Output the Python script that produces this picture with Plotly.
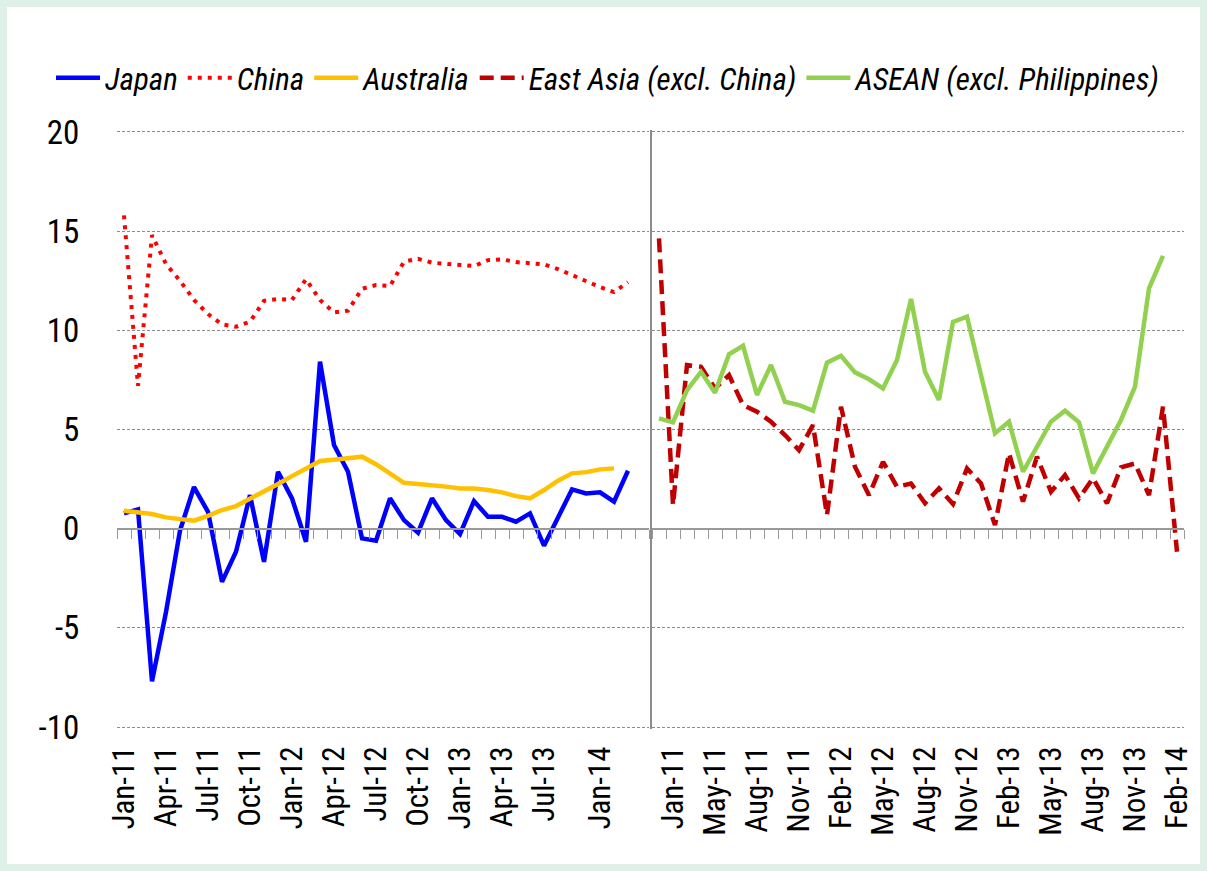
import plotly.graph_objects as go

# ---------------- data ----------------
left_tick_labels = ["Jan-11", "Apr-11", "Jul-11", "Oct-11", "Jan-12", "Apr-12", "Jul-12",
                    "Oct-12", "Jan-13", "Apr-13", "Jul-13", "Jan-14"]
right_tick_labels = ["Jan-11", "May-11", "Aug-11", "Nov-11", "Feb-12", "May-12", "Aug-12",
                     "Nov-12", "Feb-13", "May-13", "Aug-13", "Nov-13", "Feb-14"]
y_tick_values = [-10, -5, 0, 5, 10, 15, 20]
y_tick_labels = ["-10", "-5", "0", "5", "10", "15", "20"]

japan = [0.77, 0.97, -7.7, -4.2, -0.1, 2.1, 0.85, -2.68, -1.16, 1.69, -1.67, 2.87, 1.53,
         -0.66, 8.42, 4.22, 2.87, -0.49, -0.61, 1.53, 0.43, -0.2, 1.53, 0.43, -0.27, 1.39,
         0.6, 0.6, 0.35, 0.77, -0.86, 0.55, 1.98, 1.78, 1.83, 1.36, 2.92]
china = [15.8, 7.2, 14.8, 13.34, 12.5, 11.53, 10.82, 10.3, 10.18, 10.43, 11.49, 11.58, 11.53,
         12.58, 11.53, 10.9, 10.99, 12.1, 12.28, 12.23, 13.46, 13.61, 13.41, 13.36, 13.28,
         13.24, 13.54, 13.58, 13.44, 13.36, 13.33, 13.09, 12.77, 12.5, 12.18, 11.93, 12.43]
australia = [0.9, 0.82, 0.74, 0.57, 0.5, 0.4, 0.65, 0.94, 1.14, 1.5, 1.86, 2.25, 2.65, 3.03,
             3.41, 3.48, 3.55, 3.63, 3.25, 2.8, 2.31, 2.25, 2.2, 2.12, 2.03, 2.03, 1.95, 1.83,
             1.64, 1.53, 1.95, 2.42, 2.79, 2.85, 2.99, 3.04]
east_asia = [14.64, 1.19, 8.25, 8.16, 7.07, 7.74, 6.23, 5.9, 5.39, 4.72, 3.96, 5.22, 0.69,
             6.15, 3.12, 1.69, 3.37, 2.11, 2.28, 1.28, 2.03, 1.24, 3.04, 2.28, 0.18, 3.8, 1.36,
             3.63, 1.86, 2.7, 1.53, 2.54, 1.28, 3.09, 3.29, 1.69, 6.15, -1.16]
asean = [5.56, 5.36, 6.99, 7.91, 6.85, 8.79, 9.22, 6.74, 8.25, 6.4, 6.23, 5.95, 8.37, 8.72,
         7.88, 7.53, 7.07, 8.5, 11.58, 7.91, 6.49, 10.43, 10.69, 7.83, 4.81, 5.39, 2.87, 4.13,
         5.39, 5.95, 5.36, 2.79, 4.13, 5.48, 7.16, 12.12, 13.75]

n_cat = 38  # categories per panel

# ---------------- layout helpers ----------------
left_tickvals = [0, 3, 6, 9, 12, 15, 18, 21, 24, 27, 30, 34]
right_tickvals = [1, 4, 7, 10, 13, 16, 19, 22, 25, 28, 31, 34, 37]
boundaries = [k - 0.5 for k in range(n_cat + 1)]
xr = [-0.5, n_cat - 0.5]
yr = [-10.1, 20.1]

FONT = "Roboto Condensed, Liberation Sans Narrow, Roboto, sans-serif"
BG = "#DFF0E9"

W, H = 1207, 871
L, R, T, B = 117, 23, 130, 142
PW = W - L - R
PH = H - T - B
PY0 = H - B  # pixel y of the bottom of the plot area

def py(v):
    """paper fraction for a pixel row"""
    return (PY0 - v) / PH

def px(v):
    return (v - L) / PW

fig = go.Figure()

def idx(s):
    return list(range(len(s)))

fig.add_trace(go.Scatter(x=idx(japan), y=japan, name="Japan", mode="lines",
                         line=dict(color="#0000FF", width=4.5), xaxis="x", yaxis="y"))
fig.add_trace(go.Scatter(x=idx(china), y=china, name="China", mode="lines",
                         line=dict(color="#FF0000", width=4, dash="4px,6px"), xaxis="x", yaxis="y"))
fig.add_trace(go.Scatter(x=idx(australia), y=australia, name="Australia", mode="lines",
                         line=dict(color="#FFC000", width=4.5), xaxis="x", yaxis="y"))
fig.add_trace(go.Scatter(x=idx(east_asia), y=east_asia, name="East Asia (excl. China)", mode="lines",
                         line=dict(color="#C00000", width=4.5, dash="14px,7px"), xaxis="x2", yaxis="y2"))
fig.add_trace(go.Scatter(x=idx(asean), y=asean, name="ASEAN (excl. Philippines)", mode="lines",
                         line=dict(color="#92D050", width=4.5), xaxis="x2", yaxis="y2"))
# empty traces so that the zero-line tick axes are drawn
fig.add_trace(go.Scatter(x=[None], y=[None], xaxis="x3", yaxis="y", showlegend=False, hoverinfo="skip"))
fig.add_trace(go.Scatter(x=[None], y=[None], xaxis="x4", yaxis="y2", showlegend=False, hoverinfo="skip"))

dl = [0, 532 / PW]
dr = [px(652), 1]
zero_pos = (0 - yr[0]) / (yr[1] - yr[0])

label_axis = dict(range=xr, tickmode="array", tickangle=-90, showgrid=False, zeroline=False,
                  showline=False, ticks="outside", ticklen=4, tickcolor="rgba(0,0,0,0)",
                  tickfont=dict(family=FONT, size=31, color="#000"), fixedrange=True)
tick_axis = dict(range=xr, tickmode="array", tickvals=boundaries, showticklabels=False,
                 ticks="outside", ticklen=9, tickwidth=1, tickcolor="#999999",
                 showline=True, linecolor="#999999", linewidth=2, showgrid=False,
                 zeroline=False, anchor="free", position=zero_pos, fixedrange=True)
grid_y = dict(range=yr, tickmode="array", tickvals=y_tick_values, ticktext=y_tick_labels,
              showgrid=True, gridcolor="#8C8C8C", gridwidth=1, griddash="3px,2px",
              zeroline=False, fixedrange=True)

fig.update_layout(
    width=W, height=H,
    margin=dict(l=L, r=R, t=T, b=B, autoexpand=False),
    paper_bgcolor=BG,
    plot_bgcolor="rgba(0,0,0,0)",
    xaxis=dict(domain=dl, anchor="y", tickvals=left_tickvals, ticktext=left_tick_labels, **label_axis),
    xaxis2=dict(domain=dr, anchor="y2", tickvals=right_tickvals, ticktext=right_tick_labels, **label_axis),
    xaxis3=dict(overlaying="x", **tick_axis),
    xaxis4=dict(overlaying="x2", **tick_axis),
    yaxis=dict(anchor="x", ticks="outside", ticklen=30, tickcolor="rgba(0,0,0,0)",
               tickfont=dict(family=FONT, size=33, color="#000"), showline=False, **grid_y),
    yaxis2=dict(anchor="x2", showticklabels=False, showline=True, linecolor="#8C8C8C",
                linewidth=2, ticks="", **grid_y),
    showlegend=True,
    legend=dict(orientation="h", x=px(51), xanchor="left", y=py(78), yanchor="middle",
                font=dict(family=FONT, size=31, color="#000", style="italic"),
                bgcolor="rgba(0,0,0,0)", itemwidth=44, tracegroupgap=0),
    shapes=[dict(type="rect", xref="paper", yref="paper", layer="below",
                 x0=px(7), x1=px(1200), y0=py(864), y1=py(7),
                 fillcolor="#FFFFFF", line=dict(width=0))],
)

fig.write_html("out.html", config={"displayModeBar": False},
               post_script="document.body.style.margin='0';document.body.style.background='%s';" % BG)
